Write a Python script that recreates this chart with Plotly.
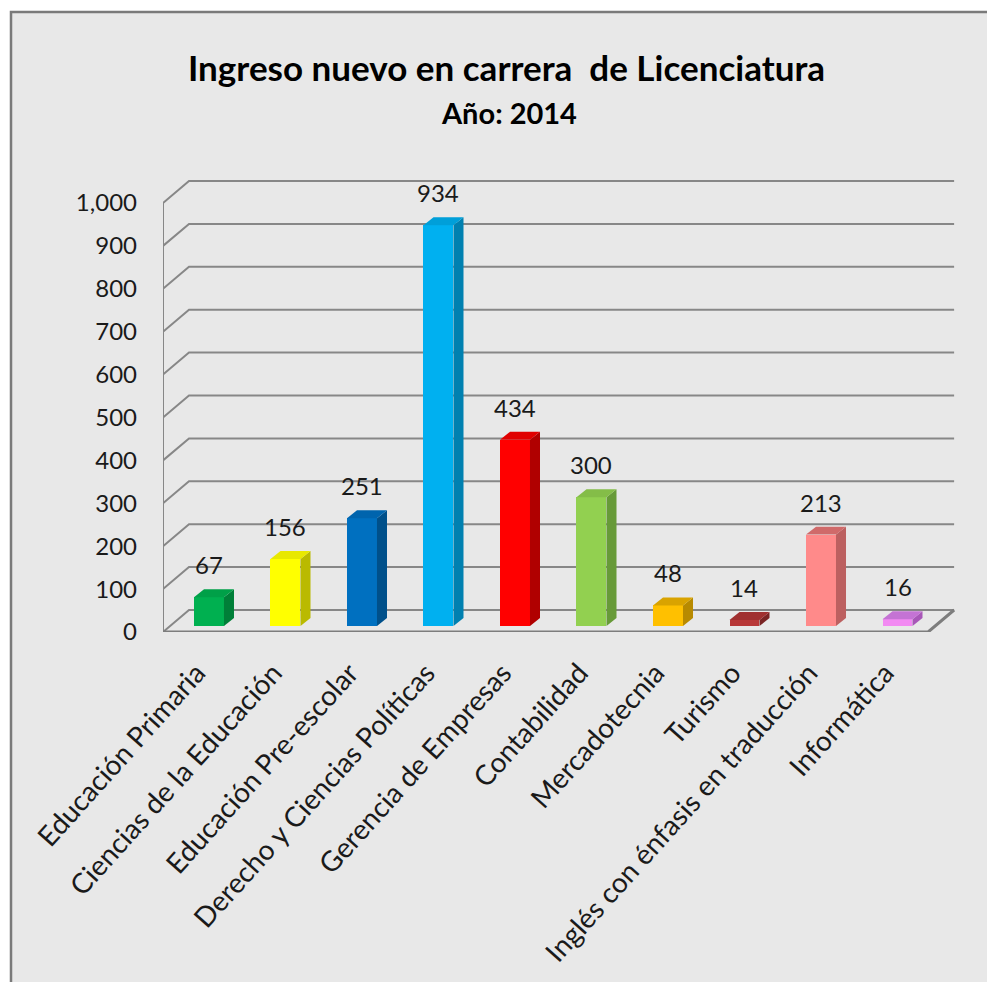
import plotly.graph_objects as go

# ---- data ----
categories = ["Educación Primaria", "Ciencias de la Educación", "Educación Pre-escolar",
              "Derecho y Ciencias Políticas", "Gerencia de Empresas", "Contabilidad",
              "Mercadotecnia", "Turismo", "Inglés con énfasis en traducción", "Informática"]
values = [67, 156, 251, 934, 434, 300, 48, 14, 213, 16]
y_ticks = [0, 100, 200, 300, 400, 500, 600, 700, 800, 900, 1000]
title_text = "Ingreso nuevo en carrera  de Licenciatura"
subtitle_text = "Año: 2014"

# ---- styles ----
front_colors = ["#00B050", "#FFFF00", "#0070C0", "#00B0F0", "#FF0000", "#92D050",
                "#FFC000", "#B83838", "#FF8A8A", "#F28AF2"]
top_colors = ["#00A048", "#E8E800", "#0064AD", "#009FD9", "#E00000", "#84BD48",
              "#D9A300", "#A03030", "#D06A6A", "#C473D4"]
side_colors = ["#007F38", "#BABA00", "#00508A", "#0080B0", "#B00000", "#679A38",
               "#B88A00", "#7A2424", "#BC6060", "#A857B8"]
grid_color = "#878787"
bg_color = "#E8E8E8"
font_family = "Lato, 'Open Sans', sans-serif"

# ---- 3D geometry (axis units) ----
X_LEFT = -0.601
X_RIGHT = 9.817
X_RIGHT_FRONT = 9.40
DEPTH_DX = 0.34
DEPTH_DY = 51.3
BASE = 14
BAR_W = 0.392
SIDE_DX = 0.131
SIDE_DY = 18.6
LABEL_SHIFT = -0.16

# ---- layout geometry (pixels) ----
PX_PER_UNIT = 0.429
FIG_W, FIG_H = 987, 974
M_L, M_R, M_T, M_B = 155, 35, 167, 350
PLOT_W = FIG_W - M_L - M_R
PLOT_H = FIG_H - M_T - M_B
Y_TOP = PLOT_H / PX_PER_UNIT


def px_x(px):  # reference-picture pixel -> paper x
    return (px - 163) / PLOT_W


def px_y(py):  # reference-picture pixel -> paper y
    return (632 - py) / PLOT_H


xs = list(range(len(categories)))

fig = go.Figure()

# front faces
fig.add_trace(go.Bar(
    x=xs, y=values, base=[BASE] * len(values), width=BAR_W,
    marker=dict(color=front_colors, line=dict(width=0)),
    hoverinfo="skip", showlegend=False))

# side and top faces
for i, v in enumerate(values):
    xr = i + BAR_W / 2
    xl = i - BAR_W / 2
    top = BASE + v
    fig.add_trace(go.Scatter(
        x=[xr, xr + SIDE_DX, xr + SIDE_DX, xr, xr],
        y=[BASE, BASE + SIDE_DY, top + SIDE_DY, top, BASE],
        mode="lines", fill="toself", fillcolor=side_colors[i],
        line=dict(width=0, color=side_colors[i]), hoverinfo="skip", showlegend=False))
    fig.add_trace(go.Scatter(
        x=[xl, xr, xr + SIDE_DX, xl + SIDE_DX, xl],
        y=[top, top, top + SIDE_DY, top + SIDE_DY, top],
        mode="lines", fill="toself", fillcolor=top_colors[i],
        line=dict(width=0, color=top_colors[i]), hoverinfo="skip", showlegend=False))

annotations = []
# data labels
for i, v in enumerate(values):
    annotations.append(dict(
        x=i, y=BASE + v + SIDE_DY, xref="x", yref="y", text=str(v),
        showarrow=False, xanchor="center", yanchor="bottom", yshift=8,
        font=dict(family=font_family, size=24, color="#1a1a1a")))

annotations += [
    dict(text=title_text, xref="paper", yref="paper", x=px_x(506), y=px_y(67),
         xanchor="center", yanchor="middle", showarrow=False,
         font=dict(family=font_family, size=35, color="black", weight=700)),
    dict(text=subtitle_text, xref="paper", yref="paper", x=px_x(509), y=px_y(112),
         xanchor="center", yanchor="middle", showarrow=False,
         font=dict(family=font_family, size=29, color="black", weight=700)),
]

shapes = []
# chart border + background
shapes.append(dict(type="rect", xref="paper", yref="paper",
                   x0=px_x(11), x1=1.2, y0=-1.0, y1=px_y(12),
                   line=dict(color="#7a7a7a", width=2.5), fillcolor=bg_color, layer="below"))
# gridlines (back wall + left wall diagonals)
for t in y_ticks:
    path = (f"M {X_LEFT},{t} L {X_LEFT + DEPTH_DX},{t + DEPTH_DY} "
            f"L {X_RIGHT_FRONT + DEPTH_DX},{t + DEPTH_DY}")
    shapes.append(dict(type="path", xref="x", yref="y", path=path,
                       line=dict(color=grid_color, width=2), layer="below"))
# left wall front edge
shapes.append(dict(type="line", xref="x", yref="y", x0=X_LEFT, x1=X_LEFT, y0=0, y1=y_ticks[-1],
                   line=dict(color=grid_color, width=2), layer="below"))
# floor front and right edges
shapes.append(dict(type="path", xref="x", yref="y",
                   path=(f"M {X_LEFT},0 L {X_RIGHT_FRONT},0 "
                         f"L {X_RIGHT_FRONT + DEPTH_DX},{DEPTH_DY}"),
                   line=dict(color="#7d7d7d", width=3), layer="below"))

fig.update_layout(
    width=FIG_W, height=FIG_H,
    margin=dict(l=M_L, r=M_R, t=M_T, b=M_B, pad=0),
    paper_bgcolor="white", plot_bgcolor="rgba(0,0,0,0)",
    shapes=shapes, annotations=annotations,
    bargap=0,
    xaxis=dict(range=[X_LEFT, X_RIGHT], tickvals=[x + LABEL_SHIFT for x in xs],
               ticktext=categories, tickangle=-48,
               showgrid=False, zeroline=False, showline=False, ticks="",
               ticklabelstandoff=18,
               tickfont=dict(family=font_family, size=28, color="#1a1a1a")),
    yaxis=dict(range=[0, Y_TOP], tickvals=y_ticks, tickformat=",", showgrid=False,
               zeroline=False, showline=False, ticks="", ticklabelstandoff=25,
               tickfont=dict(family=font_family, size=24, color="#1a1a1a")),
)

fig.write_html("out.html")
